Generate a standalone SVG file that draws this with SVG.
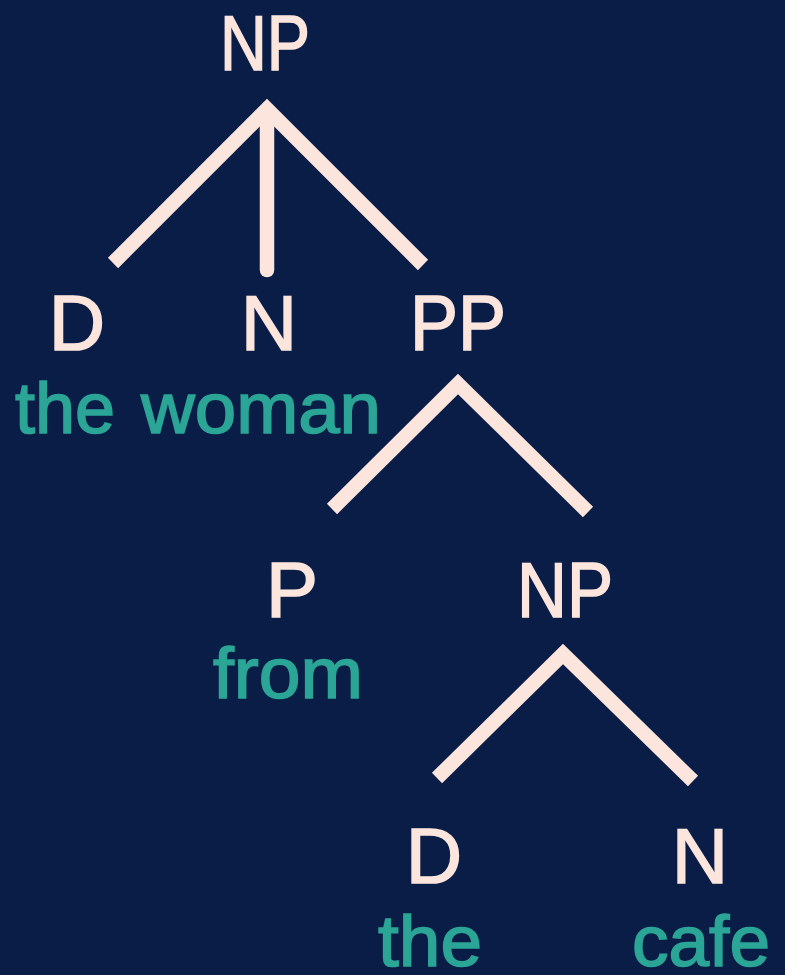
<svg xmlns="http://www.w3.org/2000/svg" width="785" height="975" viewBox="0 0 785 975">
<style>
.cat{font-family:"Liberation Sans",Arial,sans-serif;font-size:78px;fill:#fbe5dd;stroke:#fbe5dd;stroke-width:1.6;text-anchor:middle}
.word{font-family:"Liberation Sans",Arial,sans-serif;font-size:72px;fill:#2aa596;stroke:#2aa596;stroke-width:1.6;text-anchor:middle}
.br{fill:none;stroke:#fbe5dd;stroke-width:14.5;stroke-linejoin:miter;stroke-linecap:butt}
</style>
<rect width="785" height="975" fill="#0a1d46"/>
<g id="connectors">
<polyline class="br" points="113,263 267,109 423,265"/>
<line class="br" x1="267" y1="112" x2="267" y2="270" style="stroke-linecap:round"/>
<polyline class="br" points="332,509 458,384 588,512"/>
<polyline class="br" points="437,778 563,654 693,781"/>
</g>
<g id="np-top"><text class="cat" x="265" y="70" textLength="90" lengthAdjust="spacingAndGlyphs">NP</text></g>
<g id="d1"><text class="cat" x="77" y="350">D</text><text class="word" x="65" y="433">the</text></g>
<g id="n1"><text class="cat" x="269" y="350">N</text><text class="word" x="261" y="433" textLength="240" lengthAdjust="spacingAndGlyphs">woman</text></g>
<g id="pp"><text class="cat" x="458" y="350" textLength="96" lengthAdjust="spacingAndGlyphs">PP</text></g>
<g id="p"><text class="cat" x="292" y="617">P</text><text class="word" x="288" y="698" textLength="150" lengthAdjust="spacingAndGlyphs">from</text></g>
<g id="np2"><text class="cat" x="565" y="617" textLength="96" lengthAdjust="spacingAndGlyphs">NP</text></g>
<g id="d2"><text class="cat" x="434" y="883">D</text><text class="word" x="430" y="966" textLength="104" lengthAdjust="spacingAndGlyphs">the</text></g>
<g id="n2"><text class="cat" x="700" y="883">N</text><text class="word" x="701" y="966" textLength="138" lengthAdjust="spacingAndGlyphs">cafe</text></g>
</svg>
